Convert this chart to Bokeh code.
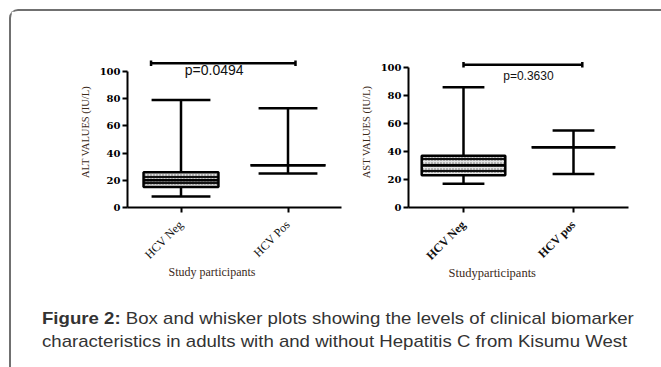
import math
from bokeh.plotting import figure
from bokeh.models import Range1d, FixedTicker, Label, Div, ColumnDataSource, Title, Spacer
from bokeh.layouts import column, row
from bokeh.embed import file_html
from bokeh.resources import INLINE

# ---- data ----
groups = [1, 2]
alt_labels = ["HCV Neg", "HCV Pos"]
ast_labels = ["HCV Neg", "HCV pos"]

alt_min = [8, 25]
alt_q1 = [15, 31]
alt_med = [20, 31]
alt_q3 = [26, 31]
alt_max = [79, 73]

ast_min = [17, 24]
ast_q1 = [23, 43]
ast_med = [30, 43]
ast_q3 = [37, 43]
ast_max = [86, 55]

alt_p = "p=0.0494"
ast_p = "p=0.3630"

AXIS_LABEL_COLOR = "#3b2a1a"
FRAME = "#707070"


def make_panel(labels, vmin, q1, med, q3, vmax, ytitle, xtitle, ptext,
               width, bl, br, bb, ymax, box_w, cap_w, bracket, ptext_x,
               ptext_y, p_size, cat_bold, xtitle_offset, xtitle_size):
    p = figure(width=width, height=283, x_range=Range1d(0.5, 2.5),
               y_range=Range1d(0, ymax), output_backend="svg",
               toolbar_location=None, min_border_left=bl,
               min_border_right=br, min_border_top=45, min_border_bottom=bb,
               margin=0)
    p.outline_line_color = None
    p.grid.visible = False
    p.background_fill_color = "white"
    p.border_fill_color = "white"

    src = ColumnDataSource(dict(x=groups, vmin=vmin, q1=q1, med=med, q3=q3,
                                vmax=vmax))
    # whiskers
    p.segment(x0="x", y0="vmin", x1="x", y1="vmax", source=src,
              line_color="black", line_width=2.5)
    p.segment(x0=[g - cap_w / 2 for g in groups], y0=vmin,
              x1=[g + cap_w / 2 for g in groups], y1=vmin,
              line_color="black", line_width=2.5)
    p.segment(x0=[g - cap_w / 2 for g in groups], y0=vmax,
              x1=[g + cap_w / 2 for g in groups], y1=vmax,
              line_color="black", line_width=2.5)
    # boxes: light dotted fill with dark horizontal bands
    p.vbar(x="x", width=box_w, bottom="q1", top="q3", source=src,
           fill_color="#e4e4e4", hatch_pattern="dot",
           hatch_color="#6a6a6a", hatch_scale=3, hatch_weight=1,
           line_color=None)
    p.vbar(x="x", width=box_w, bottom="q1", top="q3", source=src,
           fill_alpha=0, hatch_pattern="horizontal_line",
           hatch_color="#111111", hatch_weight=2.2, hatch_scale=6,
           line_color="black", line_width=2.5)
    # medians
    p.segment(x0=[g - box_w / 2 for g in groups], y0=med,
              x1=[g + box_w / 2 for g in groups], y1=med,
              line_color="black", line_width=2.5)

    # significance bracket
    bx0, bx1, by = bracket
    p.segment(x0=[bx0], y0=[by], x1=[bx1], y1=[by], line_color="black",
              line_width=2.5)
    p.segment(x0=[bx0, bx1], y0=[by - 2, by - 2], x1=[bx0, bx1],
              y1=[by + 2, by + 2], line_color="black", line_width=2.5)
    p.add_layout(Label(x=ptext_x, y=ptext_y, text=ptext,
                       text_font="Liberation Sans", text_font_size=p_size,
                       text_align="center", text_baseline="middle",
                       text_color="#111111"))

    # axes
    p.yaxis.bounds = (0, 100)
    p.yaxis.ticker = FixedTicker(ticks=[0, 20, 40, 60, 80, 100])
    p.yaxis.minor_tick_line_color = None
    p.yaxis.major_tick_out = 5
    p.yaxis.major_tick_in = 0
    p.yaxis.axis_line_width = 2
    p.yaxis.major_tick_line_width = 2
    p.yaxis.major_label_text_font = "DejaVu Serif"
    p.yaxis.major_label_text_font_style = "bold"
    p.yaxis.major_label_text_font_size = "10px"
    p.yaxis.major_label_text_color = "black"
    p.yaxis.major_label_standoff = 2
    p.yaxis.axis_label = ytitle
    p.yaxis.axis_label_text_font = "Liberation Serif"
    p.yaxis.axis_label_text_font_style = "normal"
    p.yaxis.axis_label_text_font_size = "10.5px"
    p.yaxis.axis_label_text_color = AXIS_LABEL_COLOR
    p.yaxis.axis_label_standoff = 6

    p.xaxis.ticker = FixedTicker(ticks=groups)
    p.xaxis.major_label_overrides = {g: lab for g, lab in zip(groups, labels)}
    p.xaxis.minor_tick_line_color = None
    p.xaxis.major_tick_out = 5
    p.xaxis.major_tick_in = 0
    p.xaxis.axis_line_width = 2
    p.xaxis.major_tick_line_width = 2
    p.xaxis.major_label_orientation = math.pi / 4
    p.xaxis.major_label_text_font = "Liberation Serif"
    p.xaxis.major_label_text_font_style = "bold" if cat_bold else "normal"
    p.xaxis.major_label_text_font_size = "12px"
    p.xaxis.major_label_text_color = "#111111"
    p.xaxis.major_label_standoff = 10

    p.add_layout(Title(text=xtitle, align="left", offset=xtitle_offset,
                       text_font="Liberation Serif",
                       text_font_size=xtitle_size, text_font_style="normal",
                       text_color=AXIS_LABEL_COLOR, standoff=-18), "below")
    return p


p1 = make_panel(alt_labels, alt_min, alt_q1, alt_med, alt_q3, alt_max,
                "ALT VALUES (IU/L)", "Study participants", alt_p,
                width=344, bl=116, br=14, bb=84, ymax=111, box_w=0.70,
                cap_w=0.55, bracket=(0.72, 2.07, 106), ptext_x=1.31,
                ptext_y=101, p_size="14px", cat_bold=False, xtitle_offset=41,
                xtitle_size="12px")
p2 = make_panel(ast_labels, ast_min, ast_q1, ast_med, ast_q3, ast_max,
                "AST VALUES (IU/L)", "Studyparticipants", ast_p,
                width=296, bl=53, br=23, bb=87, ymax=107.9, box_w=0.76,
                cap_w=0.38, bracket=(1.0, 2.08, 102), ptext_x=1.59,
                ptext_y=94, p_size="12px", cat_bold=True, xtitle_offset=40,
                xtitle_size="12.5px")

caption = Div(
    text=('<div style="font-family: \'Liberation Sans\', Arial, sans-serif; '
          'font-size: 17px; line-height: 23px; color: #333333; '
          'padding-top: 13px; padding-left: 31px; white-space: nowrap; '
          'transform: scaleX(1.095); transform-origin: 31px 0;">'
          '<b>Figure 2:</b> Box and whisker plots showing the levels of '
          'clinical biomarker<br>characteristics in adults with and without '
          'Hepatitis C from Kisumu West</div>'),
    width=640, height=60, margin=0)

frame_div = Div(
    text=(f'<div style="width:652px;height:358px;border-left:2px solid {FRAME};'
          f'border-top:2px solid {FRAME};border-top-left-radius:9px;'
          'box-sizing:border-box;"></div>'),
    width=2, height=356, margin=0)

layout = row(frame_div,
             column(Spacer(width=640, height=2, margin=0), row(p1, p2, margin=0),
                    caption, margin=0),
             margin=(9, 0, 0, 9))

open("out.html", "w").write(file_html(layout, INLINE))
